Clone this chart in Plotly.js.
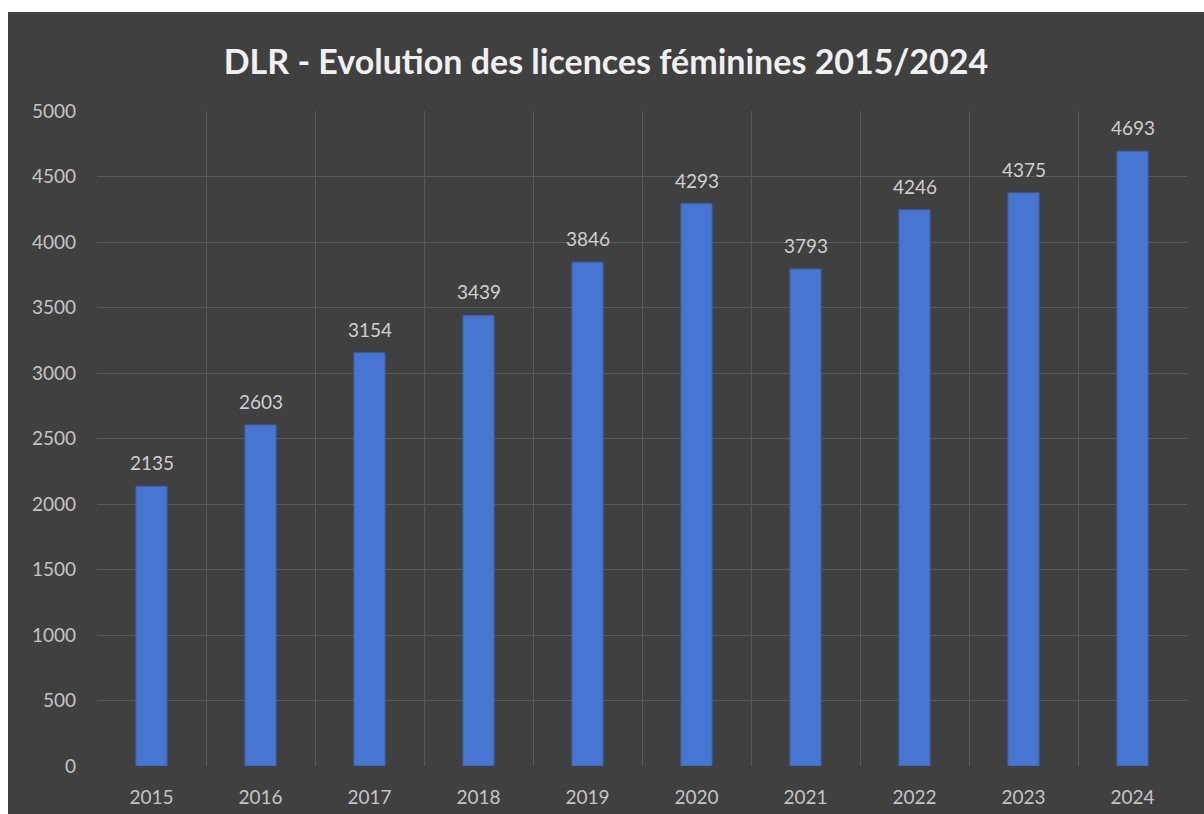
<!DOCTYPE html>
<html>
<head>
<meta charset="utf-8">
<script src="https://cdn.plot.ly/plotly-3.0.1.min.js"></script>
<style>
html,body{margin:0;padding:0;background:#ffffff;width:1204px;height:814px;overflow:hidden;}
#chart{position:absolute;left:8px;top:12px;width:1196px;height:802px;}
</style>
</head>
<body>
<div id="chart"></div>
<script>
const years = ["2015","2016","2017","2018","2019","2020","2021","2022","2023","2024"];
const licences = [2135, 2603, 3154, 3439, 3846, 4293, 3793, 4246, 4375, 4693];
const yTicks = [0, 500, 1000, 1500, 2000, 2500, 3000, 3500, 4000, 4500, 5000];

const FONT = "Lato, 'Open Sans', sans-serif";

const trace = {
  type: "bar",
  x: years,
  y: licences,
  marker: {color: "#4676d2", line: {color: "#3b62b0", width: 1}},
  hoverinfo: "x+y"
};

// category axis: annotation x given as the category index of each year
const labels = years.map((yr, i) => ({
  x: i,
  y: licences[i],
  xref: "x",
  yref: "y",
  text: String(licences[i]),
  showarrow: false,
  yanchor: "bottom",
  yshift: 10,
  font: {family: FONT, size: 19, color: "#cfcfcf"}
}));

const layout = {
  width: 1196,
  height: 802,
  paper_bgcolor: "#404040",
  plot_bgcolor: "#404040",
  margin: {l: 89, r: 17, t: 99, b: 48},
  bargap: 0.715,
  showlegend: false,
  annotations: labels,
  title: {
    text: "<b>DLR - Evolution des licences féminines 2015/2024</b>",
    font: {family: FONT, size: 34, color: "#f0f0f0"},
    x: 0.5, xanchor: "center",
    y: 0.937, yanchor: "middle"
  },
  xaxis: {
    type: "category",
    tickson: "boundaries",
    showgrid: true,
    gridcolor: "#5a5a5a",
    gridwidth: 1,
    ticks: "",
    zeroline: false,
    showline: false,
    tickfont: {family: FONT, size: 19, color: "#c4c4c4"},
    ticklabelstandoff: 18
  },
  yaxis: {
    range: [0, 5000],
    tickvals: yTicks,
    ticktext: yTicks.map(String),
    showgrid: true,
    gridcolor: "#5a5a5a",
    gridwidth: 1,
    zeroline: false,
    showline: false,
    ticks: "",
    tickfont: {family: FONT, size: 19, color: "#c4c4c4"},
    ticklabelstandoff: 20
  }
};

Plotly.newPlot("chart", [trace], layout, {displayModeBar: false, staticPlot: true});
</script>
</body>
</html>
